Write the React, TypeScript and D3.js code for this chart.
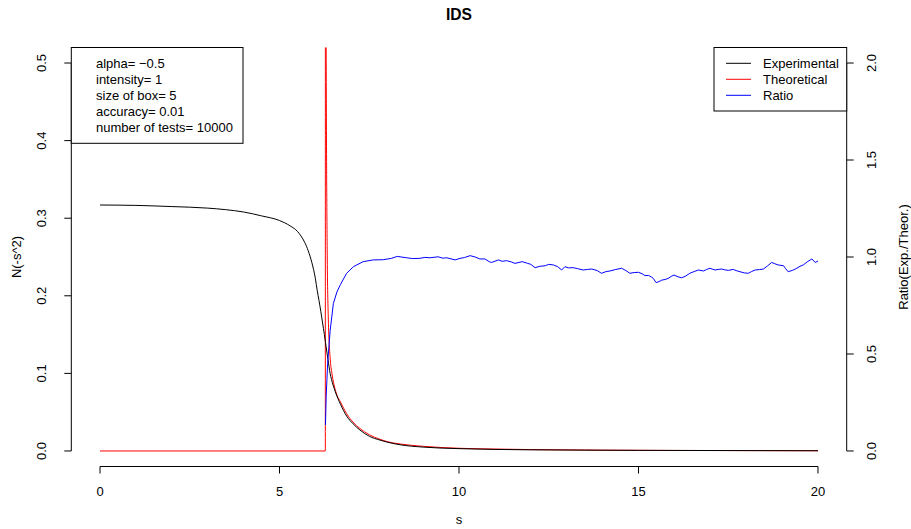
import React from "react";
import * as d3 from "d3";

const W = 911;
const H = 529;

// Experimental N(-s^2)
const expS = [0, 1, 2, 3, 3.5, 4, 4.5, 5, 5.3, 5.5, 5.6, 5.7, 5.8, 5.9, 6.0, 6.05, 6.1, 6.15, 6.2, 6.25, 6.28, 6.35, 6.41, 6.45, 6.55, 6.7, 6.87, 7.05, 7.24, 7.5, 7.8, 8.36, 9, 10, 12, 15, 20];
const expN = [0.317, 0.3165, 0.315, 0.313, 0.311, 0.308, 0.303, 0.297, 0.29, 0.283, 0.277, 0.269, 0.258, 0.243, 0.222, 0.207, 0.194, 0.18, 0.165, 0.15, 0.14, 0.118, 0.1, 0.092, 0.077, 0.06, 0.045, 0.035, 0.027, 0.019, 0.014, 0.008, 0.005, 0.003, 0.0015, 0.0008, 0.0003];

// Theoretical N(-s^2)
const theoS = [0, 6.276, 6.279, 6.3, 6.33, 6.36, 6.41, 6.46, 6.52, 6.6, 6.7, 6.87, 7.05, 7.24, 7.5, 7.8, 8.0, 8.36, 9, 10, 11, 12, 14, 16, 18, 20];
const theoN = [0, 0, 1.0, 0.52, 0.25, 0.17, 0.12, 0.1, 0.085, 0.072, 0.063, 0.048, 0.037, 0.029, 0.021, 0.015, 0.012, 0.009, 0.006, 0.0035, 0.0025, 0.0018, 0.0011, 0.0007, 0.0005, 0.0003];

// Ratio (Exp./Theor.)
const ratioS = [6.28, 6.3, 6.34, 6.41, 6.5, 6.6, 6.7, 6.87, 7.06, 7.33, 7.61, 7.89, 8.12, 8.28, 8.54, 8.7, 8.91, 9.05, 9.19, 9.42, 9.55, 9.66, 9.89, 10.03, 10.15, 10.31, 10.45, 10.58, 10.72, 10.86, 10.91, 11.1, 11.2, 11.33, 11.45, 11.56, 11.76, 11.9, 12.0, 12.12, 12.25, 12.4, 12.5, 12.63, 12.75, 12.86, 12.95, 13.05, 13.18, 13.3, 13.46, 13.58, 13.7, 13.85, 13.97, 14.1, 14.21, 14.35, 14.53, 14.65, 14.76, 14.88, 15.0, 15.1, 15.18, 15.28, 15.37, 15.41, 15.49, 15.57, 15.65, 15.74, 15.83, 15.91, 15.99, 16.1, 16.2, 16.3, 16.43, 16.55, 16.67, 16.81, 16.9, 16.99, 17.05, 17.13, 17.22, 17.32, 17.4, 17.5, 17.64, 17.72, 17.83, 17.95, 18.06, 18.15, 18.25, 18.37, 18.48, 18.6, 18.71, 18.8, 18.89, 19.04, 19.1, 19.17, 19.3, 19.41, 19.5, 19.59, 19.7, 19.83, 19.92, 20.0];
const ratioV = [0.134, 0.28, 0.45, 0.62, 0.76, 0.82, 0.859, 0.916, 0.95, 0.976, 0.985, 0.986, 0.993, 1.003, 0.996, 0.992, 0.993, 0.998, 0.996, 1.001, 0.994, 0.996, 0.985, 0.993, 0.997, 1.007, 1.0, 0.99, 0.99, 0.974, 0.972, 0.985, 0.978, 0.981, 0.975, 0.967, 0.976, 0.968, 0.962, 0.945, 0.952, 0.955, 0.962, 0.959, 0.95, 0.933, 0.95, 0.944, 0.945, 0.94, 0.933, 0.936, 0.938, 0.93, 0.916, 0.925, 0.928, 0.935, 0.942, 0.93, 0.916, 0.92, 0.921, 0.914, 0.904, 0.905, 0.896, 0.89, 0.868, 0.873, 0.881, 0.884, 0.89, 0.9, 0.907, 0.898, 0.893, 0.9, 0.916, 0.925, 0.933, 0.928, 0.936, 0.942, 0.938, 0.933, 0.936, 0.938, 0.934, 0.931, 0.936, 0.93, 0.924, 0.918, 0.916, 0.925, 0.933, 0.935, 0.938, 0.955, 0.972, 0.965, 0.959, 0.955, 0.94, 0.924, 0.932, 0.942, 0.952, 0.959, 0.975, 0.99, 0.972, 0.979];

const xTicks = [0, 5, 10, 15, 20];
const leftTicks = [0, 0.1, 0.2, 0.3, 0.4, 0.5];
const rightTicks = [0, 0.5, 1.0, 1.5, 2.0];

const infoLines = ["alpha= \u22120.5", "intensity= 1", "size of box= 5", "accuracy= 0.01", "number of tests= 10000"];
const legendNames = ["Experimental", "Theoretical", "Ratio"];
const legendColors = ["#000000", "#FF0000", "#0000FF"];

const FONT = "'Liberation Sans', Arial, Helvetica, sans-serif";
const FS = 13;

export default function App() {
  const left = 71.3, right = 846.7, top = 47.5, bottom = 466.5;
  const x = d3.scaleLinear().domain([-0.8, 20.8]).range([left, right]);
  const y = d3.scaleLinear().domain([-0.02, 0.52]).range([bottom, top]);
  const yR = d3.scaleLinear().domain([-0.08, 2.08]).range([bottom, top]);

  const mk = (xs: number[], ys: number[], sc: d3.ScaleLinear<number, number>, curve: d3.CurveFactory) =>
    d3.line<number>().curve(curve).x((_, i) => x(xs[i])).y((_, i) => sc(ys[i]))(xs.map((_, i) => i)) || "";

  const expPath = mk(expS, expN, y, d3.curveMonotoneX);
  const theoPath = mk(theoS, theoN, y, d3.curveMonotoneX);
  const ratioPath = mk(ratioS, ratioV, yR, d3.curveLinear);

  const fmt1 = (v: number) => v.toFixed(1);

  return (
    <svg width={W} height={H} style={{ position: "absolute", left: 0, top: 0, background: "#fff" }} fontFamily={FONT}>
      <defs>
        <clipPath id="plotclip">
          <rect x={left} y={top} width={right - left} height={bottom - top} />
        </clipPath>
      </defs>
      <rect x={0} y={0} width={W} height={H} fill="#fff" />

      {/* title */}
      <text x={(left + right) / 2} y={19.5} textAnchor="middle" fontWeight="bold" fontSize={15.6}>IDS</text>

      {/* data */}
      <g clipPath="url(#plotclip)" fill="none" strokeWidth={1}>
        <path d={theoPath} stroke="#FF0000" />
        <path d={expPath} stroke="#000000" />
        <path d={ratioPath} stroke="#0000FF" />
      </g>

      {/* bottom axis */}
      <g stroke="#000" strokeWidth={1}>
        <line x1={x(xTicks[0])} x2={x(xTicks[xTicks.length - 1])} y1={bottom} y2={bottom} />
        {xTicks.map((t) => (
          <line key={t} x1={x(t)} x2={x(t)} y1={bottom} y2={bottom + 7} />
        ))}
      </g>
      {xTicks.map((t) => (
        <text key={t} x={x(t)} y={495.5} textAnchor="middle" fontSize={FS}>{t}</text>
      ))}
      <text x={(left + right) / 2} y={524} textAnchor="middle" fontSize={FS}>s</text>

      {/* left axis */}
      <g stroke="#000" strokeWidth={1}>
        <line x1={left} x2={left} y1={y(leftTicks[0])} y2={y(leftTicks[leftTicks.length - 1])} />
        {leftTicks.map((t) => (
          <line key={t} x1={left - 7} x2={left} y1={y(t)} y2={y(t)} />
        ))}
      </g>
      {leftTicks.map((t) => (
        <text key={t} transform={`translate(45.5,${y(t)}) rotate(-90)`} textAnchor="middle" fontSize={FS}>{fmt1(t)}</text>
      ))}
      <text transform={`translate(21,${(top + bottom) / 2}) rotate(-90)`} textAnchor="middle" fontSize={FS}>N(-s^2)</text>

      {/* right axis */}
      <g stroke="#000" strokeWidth={1}>
        <line x1={right} x2={right} y1={yR(rightTicks[0])} y2={yR(rightTicks[rightTicks.length - 1])} />
        {rightTicks.map((t) => (
          <line key={t} x1={right} x2={right + 7} y1={yR(t)} y2={yR(t)} />
        ))}
      </g>
      {rightTicks.map((t) => (
        <text key={t} transform={`translate(876,${yR(t)}) rotate(-90)`} textAnchor="middle" fontSize={FS}>{fmt1(t)}</text>
      ))}
      <text transform={`translate(908,${(top + bottom) / 2}) rotate(-90)`} textAnchor="middle" fontSize={FS}>Ratio(Exp./Theor.)</text>

      {/* info box */}
      <rect x={left} y={top} width={243 - left} height={143.3 - top} fill="#fff" stroke="#000" strokeWidth={1} />
      {infoLines.map((s, i) => (
        <text key={s} x={96} y={63.3 + i * 16 + 4.6} fontSize={FS}>{s}</text>
      ))}

      {/* legend */}
      <rect x={714} y={top} width={right - 714} height={111 - top} fill="#fff" stroke="#000" strokeWidth={1} />
      {legendNames.map((s, i) => (
        <g key={s}>
          <line x1={726} x2={751} y1={63.3 + i * 16} y2={63.3 + i * 16} stroke={legendColors[i]} strokeWidth={1} />
          <text x={763} y={63.3 + i * 16 + 4.6} fontSize={FS}>{s}</text>
        </g>
      ))}
    </svg>
  );
}
